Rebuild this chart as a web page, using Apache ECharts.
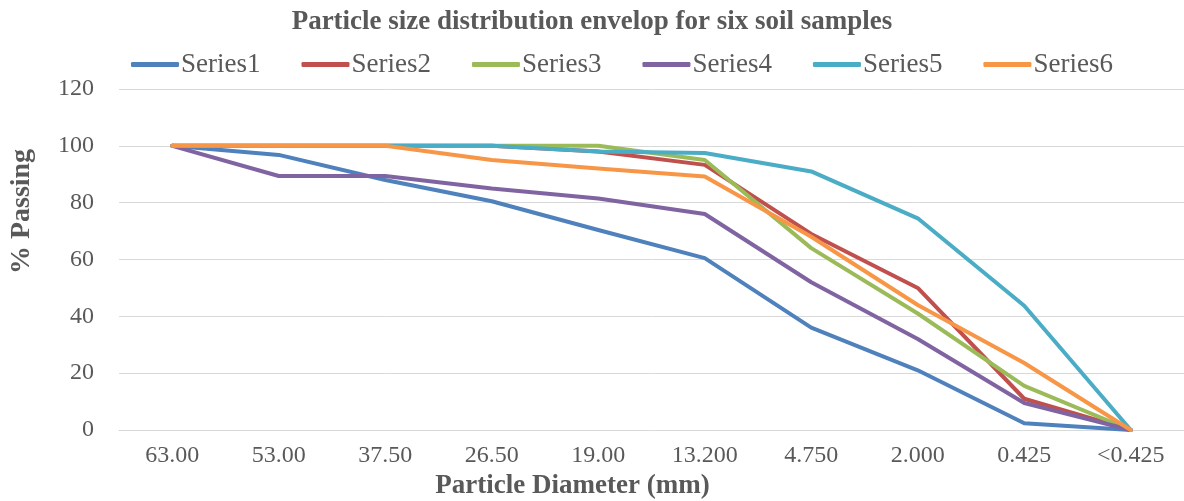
<!DOCTYPE html>
<html>
<head>
<meta charset="utf-8">
<script src="https://cdn.jsdelivr.net/npm/echarts@6/dist/echarts.min.js"></script>
<style>
html, body { margin: 0; padding: 0; background: #fff; }
#chart { width: 1184px; height: 501px; }
</style>
</head>
<body>
<div id="chart"></div>
<script>
var sizes = ['63.00', '53.00', '37.50', '26.50', '19.00', '13.200', '4.750', '2.000', '0.425', '<0.425'];
var series1 = [100, 96.8, 88, 80.5, 70.4, 60.5, 36, 21, 2.4, 0];
var series2 = [100, 100, 100, 100, 98, 93.3, 69, 50, 11, 0];
var series3 = [100, 100, 100, 100, 100, 95, 64, 41, 15.5, 0];
var series4 = [100, 89.4, 89.4, 85, 81.5, 76, 52, 32, 9.5, 0];
var series5 = [100, 100, 100, 100, 98, 97.5, 91, 74.5, 43.7, 0];
var series6 = [100, 100, 100, 95, 92, 89.2, 68, 44, 23.6, 0];
var colors = ['#4F81BD', '#C0504D', '#9BBB59', '#8064A2', '#4BACC6', '#F79646'];

var dom = document.getElementById('chart');
var myChart = echarts.init(dom, null, { renderer: 'canvas' });
var font = '"Liberation Serif", "Times New Roman", serif';

function line(name, data) {
	return {
		name : name,
		type : 'line',
		data : data,
		symbol : 'none',
		lineStyle : { width : 4, cap : 'round', join : 'round' }
	};
}

var option = {
	color : colors,
	animation : false,
	textStyle : { fontFamily : font, color : '#595959' },
	title : {
		text : 'Particle size distribution envelop for six soil samples',
		left : 'center',
		top : 4,
		textStyle : { fontFamily : font, fontSize : 27, fontWeight : 'bold', color : '#595959' }
	},
	legend : {
		top : 46,
		left : 126,
		icon : 'roundRect',
		itemWidth : 48,
		itemHeight : 5,
		itemGap : 41,
		textStyle : { fontFamily : font, fontSize : 27, color : '#595959', padding : [0, 0, 0, -3] },
		data : ['Series1', 'Series2', 'Series3', 'Series4', 'Series5', 'Series6']
	},
	grid : {
		left : 119,
		right : 0,
		top : 89,
		bottom : 71,
		outerBoundsMode : 'none'
	},
	xAxis : {
		type : 'category',
		data : sizes,
		boundaryGap : true,
		name : 'Particle Diameter (mm)',
		nameLocation : 'middle',
		nameGap : 42,
		// name sits left of the plot centre in the original
		nameTextStyle : { fontFamily : font, fontSize : 27, fontWeight : 'bold', color : '#595959', padding : [0, 158, 0, 0] },
		axisLine : { lineStyle : { color : '#d9d9d9', width : 1 } },
		axisTick : { show : false },
		axisLabel : { fontFamily : font, fontSize : 24, color : '#595959', margin : 14 }
	},
	yAxis : {
		type : 'value',
		min : 0,
		max : 120,
		interval : 20,
		name : '% Passing',
		nameLocation : 'middle',
		nameGap : 83,
		nameRotate : 90,
		nameTextStyle : { fontFamily : font, fontSize : 28, fontWeight : 'bold', color : '#595959', padding : [0, 0, 0, 96] },
		axisLine : { show : false },
		axisTick : { show : false },
		splitLine : { lineStyle : { color : '#d9d9d9', width : 1 } },
		axisLabel : { fontFamily : font, fontSize : 24, color : '#595959', margin : 25 }
	},
	series : [
		line('Series1', series1),
		line('Series2', series2),
		line('Series3', series3),
		line('Series4', series4),
		line('Series5', series5),
		line('Series6', series6)
	]
};
myChart.setOption(option);
</script>
</body>
</html>
